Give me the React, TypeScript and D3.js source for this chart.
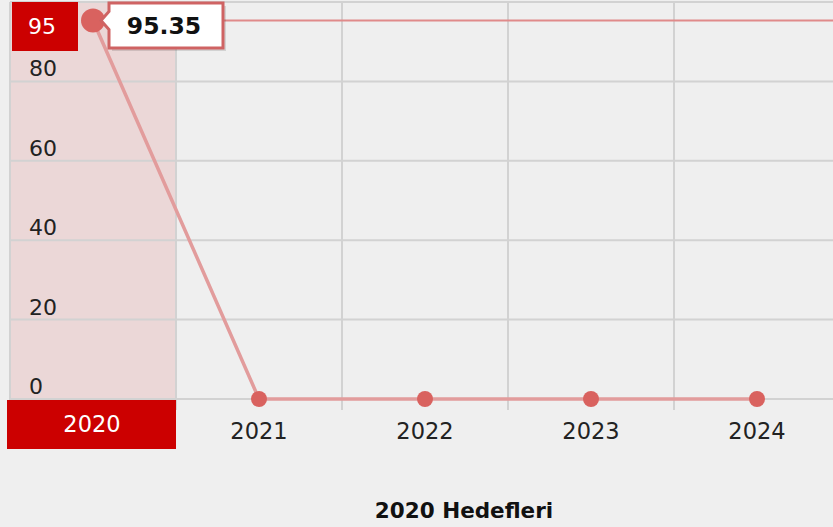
import * as d3 from "d3";
import { useEffect, useRef } from "react";

const years = ["2020", "2021", "2022", "2023", "2024"];
const values = [95.35, 0, 0, 0, 0];
const yTicks = [0, 20, 40, 60, 80];
const gridTicks = [0, 20, 40, 60, 80, 100];
const hoverIndex = 0;
const title = "2020 Hedefleri";

export default function App() {
  const ref = useRef<SVGSVGElement>(null);

  useEffect(() => {
    const svg = d3.select(ref.current);
    svg.selectAll("*").remove();

    const width = 833;
    const height = 527;
    const font = "'DejaVu Sans', Verdana, sans-serif";

    svg.attr("width", width).attr("height", height);

    svg.append("rect").attr("width", width).attr("height", height).attr("fill", "#efefef");

    const x = d3.scaleBand().domain(years).range([10, 840]).padding(0);
    const y = d3.scaleLinear().domain([0, 100]).range([399, 2]);
    const cx = (d: string) => (x(d) as number) + x.bandwidth() / 2;

    // highlighted band
    const hy = years[hoverIndex];
    svg.append("rect")
      .attr("x", x(hy) as number)
      .attr("y", y(100))
      .attr("width", x.bandwidth())
      .attr("height", y(0) - y(100))
      .attr("fill", "#ebd7d7");

    // grid
    const grid = svg.append("g").attr("stroke", "#d2d2d2").attr("stroke-width", 2);
    grid.selectAll("line.h")
      .data(gridTicks)
      .join("line")
      .attr("class", "h")
      .attr("x1", 10)
      .attr("x2", width)
      .attr("y1", d => y(d))
      .attr("y2", d => y(d));
    grid.selectAll("line.v")
      .data(years)
      .join("line")
      .attr("class", "v")
      .attr("x1", d => x(d) as number)
      .attr("x2", d => x(d) as number)
      .attr("y1", y(100))
      .attr("y2", y(0) + 11);

    // y labels
    svg.append("g")
      .selectAll("text")
      .data(yTicks)
      .join("text")
      .attr("x", 29)
      .attr("y", d => y(d) - 5)
      .attr("font-family", font)
      .attr("font-size", 22)
      .attr("fill", "#222")
      .text(d => d);

    // x labels (the hovered one sits under its red box)
    svg.append("g")
      .selectAll("text")
      .data(years.filter((d, i) => i !== hoverIndex))
      .join("text")
      .attr("x", d => cx(d))
      .attr("y", 439)
      .attr("text-anchor", "middle")
      .attr("font-family", font)
      .attr("font-size", 22.5)
      .attr("fill", "#222")
      .text(d => d);

    // crosshair horizontal line
    const hv = values[hoverIndex];
    svg.append("line")
      .attr("x1", cx(hy))
      .attr("x2", width)
      .attr("y1", y(hv))
      .attr("y2", y(hv))
      .attr("stroke", "#e08a8a")
      .attr("stroke-width", 2);

    // series line
    const line = d3.line<number>()
      .x((d, i) => cx(years[i]))
      .y(d => y(d));
    svg.append("path")
      .datum(values)
      .attr("d", line)
      .attr("fill", "none")
      .attr("stroke", "#e29c9c")
      .attr("stroke-width", 3.5);

    svg.append("g")
      .selectAll("circle")
      .data(values)
      .join("circle")
      .attr("cx", (d, i) => cx(years[i]))
      .attr("cy", d => y(d))
      .attr("r", (d, i) => (i === hoverIndex ? 12 : 8))
      .attr("fill", "#d9625f");

    // y value box
    svg.append("rect")
      .attr("x", 12).attr("y", 2).attr("width", 66).attr("height", 49)
      .attr("fill", "#cc0000");
    svg.append("text")
      .attr("x", 42).attr("y", 34)
      .attr("text-anchor", "middle")
      .attr("font-family", font)
      .attr("font-size", 22)
      .attr("fill", "#fff")
      .text(Math.floor(hv));

    // x value box
    svg.append("rect")
      .attr("x", 7).attr("y", 400).attr("width", 169).attr("height", 49)
      .attr("fill", "#cc0000");
    svg.append("text")
      .attr("x", 92).attr("y", 432)
      .attr("text-anchor", "middle")
      .attr("font-family", font)
      .attr("font-size", 22.5)
      .attr("fill", "#fff")
      .text(hy);

    // tooltip
    const px = cx(hy);
    const py = y(hv);
    const bx = px + 16, bw = 114, top = 3, bottom = 48;
    const tip = svg.append("g");
    tip.append("path")
      .attr("d", `M${bx + 3},${top + 3}H${bx + bw + 3}V${bottom + 3}H${bx + 3}Z`)
      .attr("fill", "rgba(0,0,0,0.12)");
    tip.append("path")
      .attr("d", `M${bx},${top}H${bx + bw}V${bottom}H${bx}V${py + 9}L${px + 8},${py}L${bx},${py - 9}Z`)
      .attr("fill", "#fff")
      .attr("stroke", "#cf6363")
      .attr("stroke-width", 3);
    tip.append("text")
      .attr("x", bx + bw / 2 - 2)
      .attr("y", 34)
      .attr("text-anchor", "middle")
      .attr("font-family", font)
      .attr("font-weight", "bold")
      .attr("font-size", 23.5)
      .attr("fill", "#111")
      .text(hv.toFixed(2));

    svg.append("text")
      .attr("x", 464)
      .attr("y", 518)
      .attr("text-anchor", "middle")
      .attr("font-family", font)
      .attr("font-weight", "bold")
      .attr("font-size", 21.5)
      .attr("fill", "#111")
      .text(title);
  }, []);

  return (
    <svg ref={ref} style={{ position: "absolute", left: 0, top: 0, display: "block" }}></svg>
  );
}
